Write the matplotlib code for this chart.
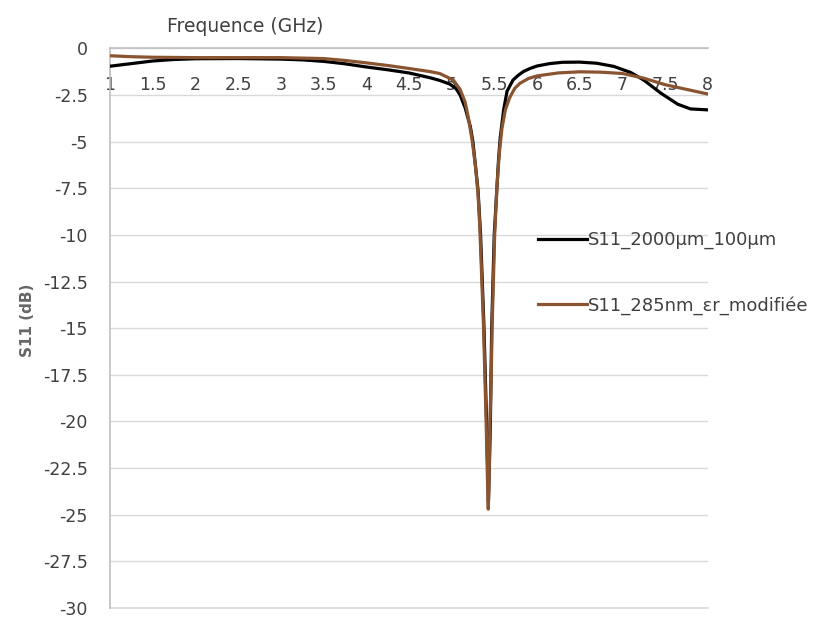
import matplotlib
matplotlib.use("Agg")
import matplotlib.pyplot as plt
from matplotlib.ticker import FuncFormatter, MultipleLocator

plt.rcParams['font.family'] = ['DejaVu Sans']
plt.rcParams['axes.unicode_minus'] = False

# Frequency (GHz) and S11 (dB) samples for each simulated structure
freq_a = [1.0, 1.25, 1.5, 1.75, 2.0, 2.5, 3.0, 3.25, 3.5, 3.75, 4.0, 4.25, 4.5, 4.75,
          4.86, 4.98, 5.05, 5.1, 5.16, 5.22, 5.25, 5.31, 5.34, 5.36, 5.38, 5.395,
          5.41, 5.425, 5.432, 5.445, 5.455, 5.47, 5.485, 5.5, 5.53, 5.55, 5.57, 5.61,
          5.65, 5.72, 5.78, 5.84, 5.92, 6.0, 6.15, 6.3, 6.5, 6.7, 6.9, 7.1, 7.25,
          7.45, 7.65, 7.8, 8.0]
s11_a = [-0.96, -0.82, -0.68, -0.6, -0.56, -0.55, -0.58, -0.62, -0.7, -0.83, -1.0, -1.15,
         -1.32, -1.58, -1.72, -1.92, -2.15, -2.5, -3.2, -4.2, -5.0, -7.6, -10.0, -12.5,
         -15.0, -17.5, -20.0, -23.0, -24.3, -22.0, -20.0, -15.0, -12.5, -10.0, -7.6,
         -6.0, -4.8, -3.3, -2.3, -1.7, -1.45, -1.25, -1.08, -0.95, -0.82, -0.75, -0.74,
         -0.8, -0.97, -1.3, -1.7, -2.4, -3.0, -3.25, -3.3]

freq_b = [1.0, 1.25, 1.5, 2.0, 2.5, 3.0, 3.5, 3.75, 4.0, 4.25, 4.5, 4.75, 4.86, 5.02,
          5.1, 5.16, 5.2, 5.24, 5.28, 5.31, 5.33, 5.355, 5.375, 5.39, 5.405, 5.42,
          5.43, 5.44, 5.45, 5.465, 5.475, 5.49, 5.505, 5.53, 5.56, 5.59, 5.63, 5.68,
          5.74, 5.8, 5.9, 6.0, 6.25, 6.5, 6.75, 7.0, 7.25, 7.5, 7.75, 8.0]
s11_b = [-0.4, -0.45, -0.48, -0.5, -0.5, -0.5, -0.55, -0.65, -0.78, -0.92, -1.08, -1.25,
         -1.35, -1.7, -2.2, -2.9, -3.8, -4.9, -6.3, -7.8, -9.5, -12.5, -15.0, -17.5,
         -20.0, -23.0, -24.7, -23.0, -20.0, -17.5, -15.0, -12.5, -10.0, -7.5, -5.6,
         -4.3, -3.3, -2.65, -2.15, -1.88, -1.62, -1.48, -1.32, -1.26, -1.28, -1.35, -1.6,
         -1.95, -2.2, -2.45]

label_a = "S11_2000µm_100µm"
label_b = "S11_285nm_εr_modifiée"

x_ticks = [1, 1.5, 2, 2.5, 3, 3.5, 4, 4.5, 5, 5.5, 6, 6.5, 7, 7.5, 8]

text_col = "#404040"
grid_col = "#d9d9d9"
axis_col = "#bfbfbf"

fig = plt.figure(figsize=(8.21, 6.24), dpi=100)
ax = fig.add_axes([0.134, 0.0256, 0.728, 0.897])

ax.plot(freq_a, s11_a, color="#000000", lw=2.3, label=label_a, zorder=3,
        solid_joinstyle="round")
ax.plot(freq_b, s11_b, color="#8a5430", lw=2.3, label=label_b, zorder=3,
        solid_joinstyle="round")

ax.set_xlim(1, 8)
ax.set_ylim(-30, 0)
ax.set_xticks(x_ticks)
ax.xaxis.set_major_formatter(FuncFormatter(lambda v, p: f"{v:g}"))
ax.yaxis.set_major_locator(MultipleLocator(2.5))
ax.yaxis.set_major_formatter(FuncFormatter(lambda v, p: f"{v:g}"))

ax.grid(axis="y", color=grid_col, lw=1.0)
ax.set_axisbelow(True)
# lowest gridline sits on the axes edge; draw it unclipped
ax.axhline(-30, color=grid_col, lw=1.2, clip_on=False, zorder=0.5)

for side in ("top", "right"):
    ax.spines[side].set_visible(False)
ax.spines["bottom"].set_position(("data", 0))
ax.spines["bottom"].set_color(axis_col)
ax.spines["left"].set_color(axis_col)
ax.spines["bottom"].set_linewidth(1.2)
ax.spines["left"].set_linewidth(1.2)

ax.tick_params(axis="x", length=0, pad=20, labelsize=12.5, labelcolor=text_col)
ax.tick_params(axis="y", length=0, pad=16, labelsize=12.5, labelcolor=text_col)

fig.text(245 / 821, 1 - 26 / 624, "Frequence (GHz)", ha="center", va="center",
         fontsize=13.5, color=text_col)
fig.text(27 / 821, 1 - 320 / 624, "S11 (dB)", ha="center", va="center",
         rotation=90, fontsize=11, fontweight="bold", color="#666666")

ax.legend(loc="upper left", bbox_to_anchor=(538 / 821, 1 - 231 / 624),
          bbox_transform=fig.transFigure, frameon=False, fontsize=13,
          handlelength=2.7, handletextpad=0.05, labelspacing=2.6,
          borderpad=0, borderaxespad=0, labelcolor=text_col)

fig.savefig("out.png", dpi=100, facecolor="white")
